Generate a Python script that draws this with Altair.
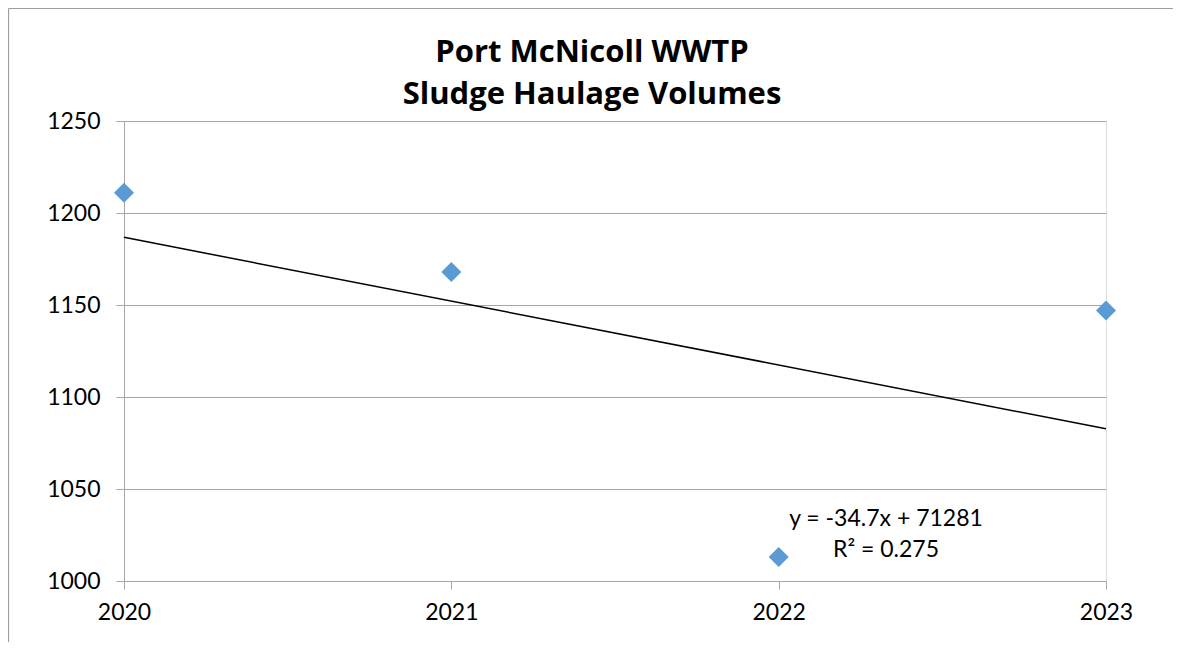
import altair as alt
import pandas as pd

# Data
years = [2020, 2021, 2022, 2023]
volumes = [1211, 1168, 1013, 1147]
title_lines = ["Port McNicoll WWTP", "Sludge Haulage Volumes"]
trend_text = ["y = -34.7x + 71281", "R² = 0.275"]
y_ticks = [1000, 1050, 1100, 1150, 1200, 1250]

df = pd.DataFrame({"year": years, "volume": volumes})

FONT = "Lato"
GRID = "#a6a6a6"
W, H = 982, 460

base = alt.Chart(df)

x_enc = alt.X(
    "year:Q",
    scale=alt.Scale(domain=[2020, 2023], nice=False, zero=False),
    axis=alt.Axis(values=years, format="d", title=None, grid=False, domain=False,
                  ticks=True, tickSize=8, tickColor=GRID, labelFontSize=23,
                  labelFont=FONT, labelColor="black", labelPadding=12, labelFlush=False),
)
y_enc = alt.Y(
    "volume:Q",
    scale=alt.Scale(domain=[1000, 1250], nice=False, zero=False),
    axis=alt.Axis(values=y_ticks, format="d", title=None, grid=True, gridColor=GRID,
                  domain=True, domainColor=GRID, ticks=True, tickSize=8, tickColor=GRID,
                  labelFontSize=23, labelFont=FONT, labelColor="black", labelPadding=16),
)

points = base.mark_point(shape="diamond", filled=True, size=400, color="#5b9bd5",
                         opacity=1).encode(x=x_enc, y=y_enc)

trend = base.transform_regression("year", "volume").mark_line(
    color="black", strokeWidth=1.5).encode(x="year:Q", y="volume:Q")

ann = alt.Chart(alt.Data(values=[{"t": "\n".join(trend_text)}])).mark_text(
    font=FONT, fontSize=23, color="black", align="center", baseline="alphabetic",
    lineBreak="\n", lineHeight=31,
).encode(text="t:N", x=alt.value(762), y=alt.value(405))

title = alt.Chart(alt.Data(values=[{"t": "\n".join(title_lines)}])).mark_text(
    font="Open Sans", fontSize=31, fontWeight="bold", color="black", align="center",
    baseline="alphabetic", lineBreak="\n", lineHeight=42,
).encode(text="t:N", x=alt.value(468), y=alt.value(-59))

one = alt.Data(values=[{"b": 1}])
border_top = alt.Chart(one).mark_rule(color="#9e9e9e", strokeWidth=1.2).encode(
    x=alt.value(-115.5), x2=alt.value(1100), y=alt.value(-112.5))
border_left = alt.Chart(one).mark_rule(color="#9e9e9e", strokeWidth=1.2).encode(
    x=alt.value(-115.5), y=alt.value(-112.5), y2=alt.value(560))

chart = alt.layer(border_top, border_left, trend, points, ann, title).properties(
    width=W, height=H,
    autosize=alt.AutoSizeParams(type="none"),
    padding={"left": 116, "top": 113, "right": 67, "bottom": 61},
).configure_view(stroke=None).configure(background="white")

chart.save("out.html", embed_options={"renderer": "svg", "actions": False})
